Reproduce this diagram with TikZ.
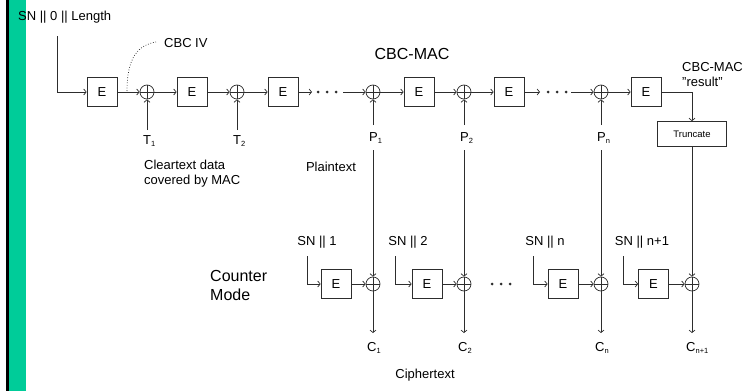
\documentclass[tikz,border=0pt]{standalone}
\usepackage{fontspec}
\setmainfont{Liberation Sans}
\usetikzlibrary{arrows.meta}
\definecolor{bargreen}{RGB}{0,204,153}
\definecolor{ln}{RGB}{45,45,45}
\newcommand\lowsub[1]{\raisebox{-2.5pt}{\fontsize{7.5}{7.5}\selectfont #1}}
\tikzset{
 ebox/.style={draw=ln,line width=0.7pt,minimum width=30pt,minimum height=29pt,inner sep=0pt,font=\fontsize{13}{13}\selectfont},
 xor/.style={circle,draw=ln,line width=0.7pt,minimum size=14pt,inner sep=0pt,
   path picture={\draw[ln,line width=0.7pt] (path picture bounding box.north) -- (path picture bounding box.south)
   (path picture bounding box.west) -- (path picture bounding box.east);}},
 conn/.style={draw=ln,line width=0.7pt},
 arr/.style={conn,-{Straight Barb[length=2.5pt,width=6pt]}},
 lbl/.style={inner sep=0pt,font=\fontsize{13}{15}\selectfont},
 big/.style={inner sep=0pt,font=\fontsize{16}{19}\selectfont},
 dotn/.style={circle,fill=ln,inner sep=0pt,minimum size=3pt},
 trbox/.style={draw=ln,line width=0.7pt,minimum width=69pt,minimum height=25pt,inner sep=0pt,font=\fontsize{9.5}{9.5}\selectfont},
}
\begin{document}
\begin{tikzpicture}[x=1pt,y=-1pt]
\useasboundingbox (0,0) rectangle (748,391);
\fill[black] (6,0) rectangle (9,391);
\fill[bargreen] (9,0) rectangle (26,391);

% ---- top row (CBC-MAC)
\node[lbl,anchor=west] (sn0) at (18,17) {SN || 0 || Length};
\coordinate (c0) at (57,36);
\node[big] (title) at (412,54) {CBC-MAC};
\node[ebox] (e1) at (102,92) {E};
\node[xor] (x1) at (147,92) {};
\node[ebox] (e2) at (192,92) {E};
\node[xor] (x2) at (237,92) {};
\node[ebox] (e3) at (283,92) {E};
\node[dotn] (d1) at (318,92) {};
\node[dotn] (d2) at (327,92) {};
\node[dotn] (d3) at (336,92) {};
\coordinate (da) at (312,92);
\coordinate (db) at (343,92);
\node[xor] (xp1) at (373,92) {};
\node[ebox] (e4) at (419,92) {E};
\node[xor] (xp2) at (464,92) {};
\node[ebox] (e5) at (509,92) {E};
\node[dotn] (d4) at (548,92) {};
\node[dotn] (d5) at (557,92) {};
\node[dotn] (d6) at (566,92) {};
\coordinate (dc) at (540,92);
\coordinate (dd) at (571,92);
\node[xor] (xpn) at (601,92) {};
\node[ebox] (e6) at (646,92) {E};
\node[trbox] (tr) at (692,134) {Truncate};
\node[lbl,anchor=west,align=left] (res) at (682,75) {CBC-MAC\\"result"};

\node[lbl,anchor=west] (iv) at (164,43) {CBC IV};
\coordinate (ivs) at (127,91);
\coordinate (ive) at (156,42);

% labels below top row
\node[lbl,anchor=west] (t1) at (143,141) {T\lowsub{1}};
\node[lbl,anchor=west] (t2) at (233,141) {T\lowsub{2}};
\node[lbl,anchor=west] (p1) at (369,138) {P\lowsub{1}};
\node[lbl,anchor=west] (p2) at (460,138) {P\lowsub{2}};
\node[lbl,anchor=west] (pn) at (597,138) {P\lowsub{n}};
\coordinate (t1e) at (147,130);
\coordinate (t2e) at (237,130);
\coordinate (p1u) at (373,125);
\coordinate (p2u) at (464,125);
\coordinate (pnu) at (601,125);
\coordinate (p1d) at (373,150);
\coordinate (p2d) at (464,150);
\coordinate (pnd) at (601,150);

\node[lbl,anchor=west,align=left] (clear) at (144,174) {Cleartext data\\covered by MAC};
\node[lbl] (plain) at (331,167) {Plaintext};

% ---- bottom row (Counter mode)
\node[big,anchor=west,align=left] (cm) at (210,285) {Counter\\Mode};
\node[lbl] (sn1) at (317,242) {SN || 1};
\node[lbl] (sn2) at (408,242) {SN || 2};
\node[lbl] (snn) at (545,242) {SN || n};
\node[lbl] (snn1) at (642,242) {SN || n+1};
\coordinate (s1) at (307,256);
\coordinate (s2) at (395,256);
\coordinate (sn) at (533,256);
\coordinate (sn1c) at (623,256);
\node[ebox] (b1) at (336,284) {E};
\node[xor] (c1x) at (373,284) {};
\node[ebox] (b2) at (427,284) {E};
\node[xor] (c2x) at (464,284) {};
\node[dotn] (d7) at (492,284) {};
\node[dotn] (d8) at (501,284) {};
\node[dotn] (d9) at (510,284) {};
\node[ebox] (bn) at (563,284) {E};
\node[xor] (cnx) at (601,284) {};
\node[ebox] (bn1) at (653.5,284) {E};
\node[xor] (cn1x) at (692,284) {};
\coordinate (o1) at (373,333);
\coordinate (o2) at (464,333);
\coordinate (on) at (601,333);
\coordinate (on1) at (692,333);
\node[lbl,anchor=west] (cc1) at (367,348) {C\lowsub{1}};
\node[lbl,anchor=west] (cc2) at (458,348) {C\lowsub{2}};
\node[lbl,anchor=west] (ccn) at (595,348) {C\lowsub{n}};
\node[lbl,anchor=west] (ccn1) at (686,348) {C\lowsub{n+1}};
\node[lbl] (ciph) at (425,375) {Ciphertext};

% ---- connectors top
\draw[arr] (c0) |- (e1.west);
\draw[arr] (e1.east) -- (x1.west);
\draw[arr] (x1.east) -- (e2.west);
\draw[arr] (e2.east) -- (x2.west);
\draw[arr] (x2.east) -- (e3.west);
\draw[arr] (e3.east) -- (da);
\draw[arr] (db) -- (xp1.west);
\draw[arr] (xp1.east) -- (e4.west);
\draw[arr] (e4.east) -- (xp2.west);
\draw[arr] (xp2.east) -- (e5.west);
\draw[arr] (e5.east) -- (dc);
\draw[arr] (dd) -- (xpn.west);
\draw[arr] (xpn.east) -- (e6.west);
\draw[arr] (e6.east) -| (tr.north);
\draw[conn,dash pattern=on 0.8pt off 1.8pt] (ivs) .. controls (127,56) and (139,45) .. (ive);
\draw[arr] (t1e) -- (x1.south);
\draw[arr] (t2e) -- (x2.south);
\draw[arr] (p1u) -- (xp1.south);
\draw[arr] (p2u) -- (xp2.south);
\draw[arr] (pnu) -- (xpn.south);

% ---- connectors bottom
\draw[arr] (s1) |- (b1.west);
\draw[arr] (s2) |- (b2.west);
\draw[arr] (sn) |- (bn.west);
\draw[arr] (sn1c) |- (bn1.west);
\draw[arr] (b1.east) -- (c1x.west);
\draw[arr] (b2.east) -- (c2x.west);
\draw[arr] (bn.east) -- (cnx.west);
\draw[arr] (bn1.east) -- (cn1x.west);
\draw[arr] (p1d) -- (c1x.north);
\draw[arr] (p2d) -- (c2x.north);
\draw[arr] (pnd) -- (cnx.north);
\draw[arr] (tr.south) -- (cn1x.north);
\draw[arr] (c1x.south) -- (o1);
\draw[arr] (c2x.south) -- (o2);
\draw[arr] (cnx.south) -- (on);
\draw[arr] (cn1x.south) -- (on1);
\end{tikzpicture}
\end{document}
